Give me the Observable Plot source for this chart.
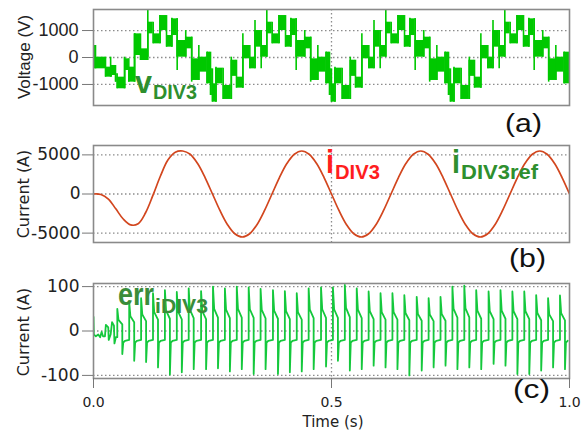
<!DOCTYPE html>
<html><head><meta charset="utf-8">
<script src="https://cdn.jsdelivr.net/npm/d3@7"></script>
<script src="https://cdn.jsdelivr.net/npm/@observablehq/plot@0.6"></script>
<style>
html,body{margin:0;padding:0;background:#fff;}
body{width:582px;height:435px;position:relative;overflow:hidden;}
.p{position:absolute;left:0;}
#overlay{position:absolute;left:0;top:0;pointer-events:none;}
</style></head><body>
<div id="pa" class="p" style="top:0px"></div>
<div id="pb" class="p" style="top:135px"></div>
<div id="pc" class="p" style="top:273px"></div>
<svg id="overlay" width="582" height="435"></svg>
<script>
// ---------------- DATA ----------------
const timeTicks = [0, 0.5, 1];
const timeTickLabels = ["0.0", "0.5", "1.0"];
const voltTicks = [-1000, 0, 1000];
const currTicks = [-5000, 0, 5000];
const errTicks = [-100, 0, 100];

// (a) v_DIV3 : startup part, blocks [start time, low, high] (each block lasts until the next one)
const voltStartBlocks = [
  [0.0000, -420, 445], [0.0042, -420, 12], [0.0252, -729, -358], [0.0371, -667, -296],
  [0.0462, -914, -605], [0.0497, -1160, -729], [0.0658, -482, -49], [0.0742, -914, -358],
  [0.0868, 74, 877], [0.0987, -111, 321]
];
const voltStartSpikes = [[0.0360, -729, 12], [0.0650, -1160, 12], [0.0858, -914, 877]];
const voltStartEnd = 0.118; // phase where first cycle joins the steady pattern
// steady cycles: start times and the pattern read within one cycle [phase, low, high]
const voltCycleStarts = [-0.0042, 0.2458, 0.4958, 0.7458];
const voltCycleBlocks = [
  [0.0000, -1408, -420], [0.0040, -1655, -976], [0.0115, -976, -395], [0.0266, -1556, -1037],
  [0.0437, -700, -100], [0.0546, -1136, -729], [0.0680, -49, 445], [0.0826, -420, 12],
  [0.0935, 383, 1000], [0.1065, 12, 445], [0.1183, 877, 1309], [0.1296, 506, 877],
  [0.1440, 1000, 1556], [0.1576, 383, 815], [0.1688, 815, 1433], [0.1800, 12, 630],
  [0.1980, 321, 753], [0.2105, -852, -49], [0.2255, -543, 12], [0.2430, -976, 198]
];
const voltCycleSpikes = [
  [0.0115, -1655, -358], [0.0437, -1556, 12], [0.0680, -1136, 877], [0.0935, -420, 1371],
  [0.1065, -420, 1000], [0.1183, 12, 1778], [0.1440, 506, 1556], [0.1688, 383, 1457],
  [0.1800, -482, 1433], [0.1980, 12, 1000], [0.2105, -914, 753], [0.2255, -852, 445],
  [0.2430, -976, 198]
];

// (b) i_DIV3 read every 1/64 s
const currStep = 1 / 64;
const currV = [0,-60,-650,-1900,-3200,-3950,-3800,-2400,-150,2300,4350,5350,5500,5080,3890,2100,0,
  -2100,-3890,-5080,-5500,-5080,-3890,-2100,0,2100,3890,5080,5500,5080,3890,2100,0,
  -2100,-3890,-5080,-5500,-5080,-3890,-2100,0,2100,3890,5080,5500,5080,3890,2100,0,
  -2100,-3890,-5080,-5500,-5080,-3890,-2100,0,2100,3890,5080,5500,5080,3890,2100,0];

// (c) err_iDIV3
const errStartT = [0, 0.0007, 0.005, 0.010, 0.014, 0.017, 0.020, 0.024, 0.026, 0.031, 0.032, 0.036, 0.039, 0.043, 0.044, 0.047];
const errStartV = [32, -8, -12, -8, -14, -2, -12, -12, 14, 8, -20, -8, 20, 12, -28, -14];
const errSpikeT = [0.050,0.075,0.100,0.125,0.150,0.175,0.200,0.226,0.251,0.276,0.301,0.326,0.351,0.377,0.402,0.427,0.452,0.478,0.503,0.528,0.553,0.578,0.603,0.628,0.653,0.679,0.704,0.729,0.754,0.779,0.804,0.830,0.855,0.880,0.905,0.930,0.955,0.980];
const errSpikeTop = [50,66,74,85,92,88,96,90,100,96,100,98,95,92,90,85,96,98,98,104,96,89,85,85,81,77,74,77,100,102,92,89,92,89,89,81,74,80];
const errSpikeBottom = [-52,-67,-70,-82,-98,-93,-86,-86,-84,-91,-86,-97,-86,-97,-93,-91,-86,-80,-67,-89,-86,-78,-82,-86,-100,-89,-82,-78,-86,-82,-86,-74,-78,-97,-97,-89,-82,-86];

// ---------------- TABLES ----------------
let vb = voltStartBlocks.map(([t, lo, hi]) => ({t0: t, lo, hi}));
let vs = voltStartSpikes.map(([t, lo, hi]) => ({t, lo, hi}));
voltCycleStarts.forEach((c0, ci) => {
  voltCycleBlocks.forEach(([p, lo, hi]) => { if (ci > 0 || p >= voltStartEnd) vb.push({t0: c0 + p, lo, hi}); });
  voltCycleSpikes.forEach(([p, lo, hi]) => { if (ci > 0 || p >= voltStartEnd) vs.push({t: c0 + p, lo, hi}); });
});
vb.sort((a, b) => a.t0 - b.t0);
vb.forEach((d, i) => { d.t1 = i < vb.length - 1 ? vb[i + 1].t0 : 1; });
vb.slice(1).forEach((d, i) => {
  const p = vb[i];
  vs.push({t: d.t0, lo: Math.min(p.lo, d.lo), hi: Math.max(p.hi, d.hi)});
});

const curr = currV.map((v, i) => ({t: i * currStep, v}));

const err = errStartT.map((t, i) => ({t, v: errStartV[i]}));
errSpikeT.forEach((T, k) => {
  const A = errSpikeTop[k], B = errSpikeBottom[k];
  err.push({t: T, v: k === 0 ? -14 : -20}, {t: T, v: A}, {t: T + 0.0025, v: 0.5 * A},
    {t: T + 0.0105, v: 0.3 * A}, {t: T + 0.0105, v: B}, {t: T + 0.0125, v: -26}, {t: T + 0.016, v: -22});
});

// ---------------- PLOTS ----------------
const gridStyle = {stroke: "#8c8c8c", strokeOpacity: 1, strokeDasharray: "1.5,2.5", strokeWidth: 1.3};
const frameStyle = {stroke: "#8a8a8a", strokeWidth: 1.6};
const plain = d => String(d);

const pa = Plot.plot({
  width: 582, height: 115, marginTop: 9, marginBottom: 10, marginLeft: 93, marginRight: 13,
  style: {fontFamily: "'Liberation Sans', Arial, sans-serif", fontSize: "18px", background: "transparent", color: "#222"},
  x: {domain: [0, 1], axis: null}, y: {domain: [-1780, 1780]},
  marks: [
    Plot.gridY(voltTicks, gridStyle),
    Plot.gridX([0.5], gridStyle),
    Plot.rect(vb, {x1: "t0", x2: "t1", y1: "lo", y2: "hi", fill: "#00c800", clip: true}),
    Plot.ruleX(vs, {x: "t", y1: "lo", y2: "hi", stroke: "#00c800", strokeWidth: 1.6, clip: true}),
    Plot.frame(frameStyle),
    Plot.axisY(voltTicks, {tickSize: 11, tickPadding: 4, label: null, stroke: "#777", fill: "#222", tickFormat: plain})
  ]
});
document.getElementById("pa").append(pa);

const pb = Plot.plot({
  width: 582, height: 115, marginTop: 10, marginBottom: 8, marginLeft: 93, marginRight: 13,
  style: {fontFamily: "'DejaVu Sans', Verdana, sans-serif", fontSize: "17px", background: "transparent", color: "#222"},
  x: {domain: [0, 1], axis: null}, y: {domain: [-6200, 6200]},
  marks: [
    Plot.gridY(currTicks, gridStyle),
    Plot.gridX([0.5], gridStyle),
    Plot.line(curr, {x: "t", y: "v", stroke: "#d2461e", strokeWidth: 1.7, curve: "catmull-rom", clip: true}),
    Plot.frame(frameStyle),
    Plot.axisY(currTicks, {tickSize: 11, tickPadding: 2, label: null, stroke: "#777", fill: "#222", tickFormat: plain})
  ]
});
document.getElementById("pb").append(pb);

const pc = Plot.plot({
  width: 582, height: 162, marginTop: 10, marginBottom: 57, marginLeft: 93, marginRight: 13,
  style: {fontFamily: "'DejaVu Sans', Verdana, sans-serif", fontSize: "17px", background: "transparent", color: "#222"},
  x: {domain: [0, 1]}, y: {domain: [-107, 107]},
  marks: [
    Plot.gridY(errTicks, gridStyle),
    Plot.gridX([0.5], gridStyle),
    Plot.line(err, {x: "t", y: "v", stroke: "#14c83c", strokeWidth: 1.8, clip: true}),
    Plot.frame(frameStyle),
    Plot.axisY(errTicks, {tickSize: 11, tickPadding: 3, label: null, stroke: "#777", fill: "#222", tickFormat: plain}),
    Plot.axisX(timeTicks, {tickSize: 10, tickPadding: 9, label: null, stroke: "#777", fill: "#222", fontSize: 14,
      tickFormat: d => timeTickLabels[timeTicks.indexOf(d)]})
  ]
});
document.getElementById("pc").append(pc);

// ---------------- TEXT OVERLAY ----------------
const ov = d3.select("#overlay");
function rotLabel(txt, x, y, font, size) {
  ov.append("text").attr("transform", `translate(${x},${y}) rotate(-90)`).attr("text-anchor", "middle")
    .attr("font-family", font).attr("font-size", size).attr("fill", "#222").text(txt);
}
rotLabel("Voltage (V)", 29.5, 57, "'Liberation Sans', Arial, sans-serif", 17);
rotLabel("Current (A)", 29, 194, "'DejaVu Sans', Verdana, sans-serif", 16);
rotLabel("Current (A)", 29, 332, "'DejaVu Sans', Verdana, sans-serif", 16);
ov.append("text").attr("x", 333).attr("y", 427).attr("text-anchor", "middle")
  .attr("font-family", "'DejaVu Sans', Verdana, sans-serif").attr("font-size", 15).attr("fill", "#222").text("Time (s)");

function tag(txt, x, y) {
  ov.append("text").attr("x", x).attr("y", y).attr("font-family", "'Liberation Sans', Arial, sans-serif")
    .attr("font-size", 26).attr("fill", "#111").attr("textLength", 37).attr("lengthAdjust", "spacingAndGlyphs").text(txt);
}
tag("(a)", 505, 131.5);
tag("(b)", 509, 267);
tag("(c)", 513, 398);

function subLabel(main, sub, x, y, color, mainSize, subSize, mainLen, subLen, subDy) {
  const t = ov.append("text").attr("x", x).attr("y", y).attr("font-family", "'Liberation Sans', Arial, sans-serif")
    .attr("font-weight", "bold").attr("fill", color);
  t.append("tspan").attr("font-size", mainSize).attr("textLength", mainLen).attr("lengthAdjust", "spacingAndGlyphs").text(main);
  t.append("tspan").attr("font-size", subSize).attr("dy", subDy).attr("dx", 1).attr("textLength", subLen).attr("lengthAdjust", "spacingAndGlyphs").text(sub);
}
subLabel("v", "DIV3", 135, 93, "#2e8f2e", 31, 21, 17, 44, 5.5);
subLabel("i", "DIV3", 326, 173, "#ff1e1e", 33, 21, 8, 45, 5.5);
subLabel("i", "DIV3ref", 452, 173, "#2e8f2e", 33, 21, 8, 77, 5.5);
subLabel("err", "iDIV3", 118, 305, "#3a8c3a", 31, 20, 36, 53, 8);
</script>
</body></html>
